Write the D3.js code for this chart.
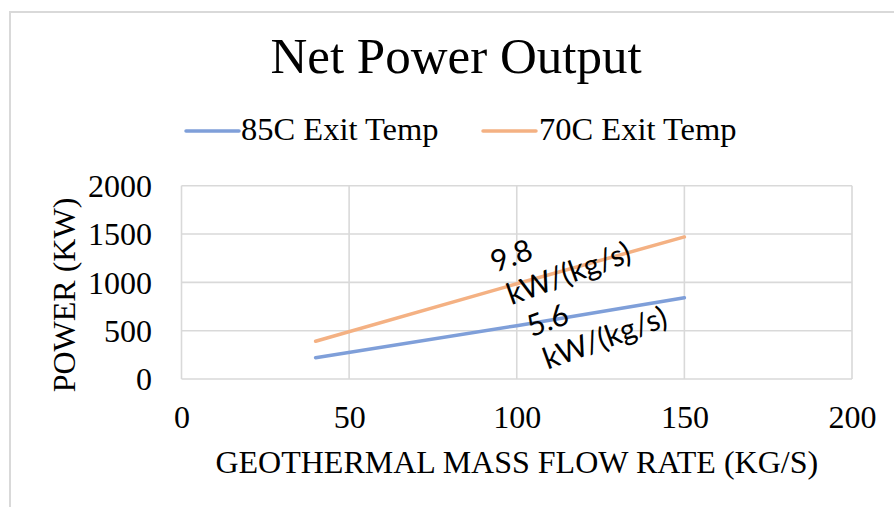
<!DOCTYPE html>
<html>
<head>
<meta charset="utf-8">
<script src="https://cdn.jsdelivr.net/npm/d3@7"></script>
<style>
  html, body { margin: 0; padding: 0; background: #fff; }
  svg { display: block; }
</style>
</head>
<body>
<svg id="chart" width="894" height="507"></svg>
<script>
// Mass flow rate (kg/s) sampled for each exit-temperature case
const flowRates = [40, 100, 150];
// Net power output (kW)
const power85C = [220, 552, 840];
const power70C = [390, 985, 1470];

const seriesNames = ["85C Exit Temp", "70C Exit Temp"];
const seriesColors = ["#7f9fd9", "#f4b183"];

const xTicks = [0, 50, 100, 150, 200];
const yTicks = [0, 500, 1000, 1500, 2000];

// Slope callouts: text lines and anchor in data units
const slopeNotes = [
  { lines: ["9.8", "kW/(kg/s)"], at: [93.6, 1100] },
  { lines: ["5.6", "kW/(kg/s)"], at: [104.4, 432] }
];

const W = 894, H = 507;
const plot = { left: 181.5, right: 852, top: 185.7, bottom: 379 };
const serif = "'Liberation Serif', 'Times New Roman', serif";
const sans = "Lato, 'Open Sans', sans-serif";

const svg = d3.select("#chart");

// Chart frame
svg.append("rect")
  .attr("x", 10).attr("y", 12)
  .attr("width", W + 20).attr("height", H + 20)
  .attr("fill", "#fff")
  .attr("stroke", "#d9d9d9").attr("stroke-width", 2);

const x = d3.scaleLinear().domain([0, 200]).range([plot.left, plot.right]);
const y = d3.scaleLinear().domain([0, 2000]).range([plot.bottom, plot.top]);

// Title
svg.append("text")
  .attr("x", 456).attr("y", 73)
  .attr("text-anchor", "middle")
  .attr("font-family", serif).attr("font-size", 51)
  .attr("fill", "#000")
  .text("Net Power Output");

// Legend
const legend = svg.append("g");
const legendItems = [
  { x0: 186, x1: 239, tx: 241 },
  { x0: 483, x1: 536, tx: 539 }
];
legendItems.forEach((it, i) => {
  legend.append("line")
    .attr("x1", it.x0).attr("x2", it.x1)
    .attr("y1", 131).attr("y2", 131)
    .attr("stroke", seriesColors[i]).attr("stroke-width", 3.5)
    .attr("stroke-linecap", "round");
  legend.append("text")
    .attr("x", it.tx).attr("y", 140)
    .attr("font-family", serif).attr("font-size", 32.5)
    .attr("fill", "#000")
    .text(seriesNames[i]);
});

// Gridlines
const grid = svg.append("g").attr("stroke", "#d9d9d9").attr("stroke-width", 1.6);
grid.selectAll("line.h").data(yTicks).join("line")
  .attr("class", "h")
  .attr("x1", plot.left).attr("x2", plot.right)
  .attr("y1", d => y(d)).attr("y2", d => y(d));
grid.selectAll("line.v").data(xTicks).join("line")
  .attr("class", "v")
  .attr("y1", plot.top).attr("y2", plot.bottom)
  .attr("x1", d => x(d)).attr("x2", d => x(d));

// Axes (labels only; the grid carries the lines)
const xAxis = d3.axisBottom(x).tickValues(xTicks).tickSize(0).tickPadding(0).tickFormat(d3.format("d"));
const yAxis = d3.axisLeft(y).tickValues(yTicks).tickSize(0).tickPadding(0).tickFormat(d3.format("d"));

const gx = svg.append("g").attr("transform", `translate(0,${plot.bottom})`).call(xAxis);
gx.select(".domain").remove();
gx.selectAll("text")
  .attr("font-family", serif).attr("font-size", 32).attr("fill", "#000")
  .attr("dy", null).attr("y", 49);

const gy = svg.append("g").attr("transform", `translate(152,0)`).call(yAxis);
gy.select(".domain").remove();
gy.selectAll("text")
  .attr("font-family", serif).attr("font-size", 32).attr("fill", "#000")
  .attr("dy", "0.34em").attr("x", 0);

// Axis titles
svg.append("text")
  .attr("x", (plot.left + plot.right) / 2).attr("y", 473)
  .attr("text-anchor", "middle")
  .attr("font-family", serif).attr("font-size", 32)
  .attr("fill", "#000")
  .text("GEOTHERMAL MASS FLOW RATE (KG/S)");

svg.append("text")
  .attr("transform", `translate(75,295) rotate(-90)`)
  .attr("text-anchor", "middle")
  .attr("font-family", serif).attr("font-size", 32)
  .attr("fill", "#000")
  .text("POWER (KW)");

// Series lines
const line = d3.line().x(d => x(d[0])).y(d => y(d[1]));
[power85C, power70C].forEach((vals, i) => {
  svg.append("path")
    .datum(flowRates.map((f, k) => [f, vals[k]]))
    .attr("d", line)
    .attr("fill", "none")
    .attr("stroke", seriesColors[i])
    .attr("stroke-width", 3.5)
    .attr("stroke-linecap", "round");
});

// Slope callouts
slopeNotes.forEach(n => {
  const g = svg.append("g")
    .attr("transform", `translate(${x(n.at[0])},${y(n.at[1])}) rotate(-20)`);
  n.lines.forEach((t, k) => {
    g.append("text")
      .attr("x", k === 0 ? 0 : 4).attr("y", k * 36)
      .attr("font-family", sans).attr("font-size", 30)
      .attr("fill", "#000")
      .text(t);
  });
});
</script>
</body>
</html>
